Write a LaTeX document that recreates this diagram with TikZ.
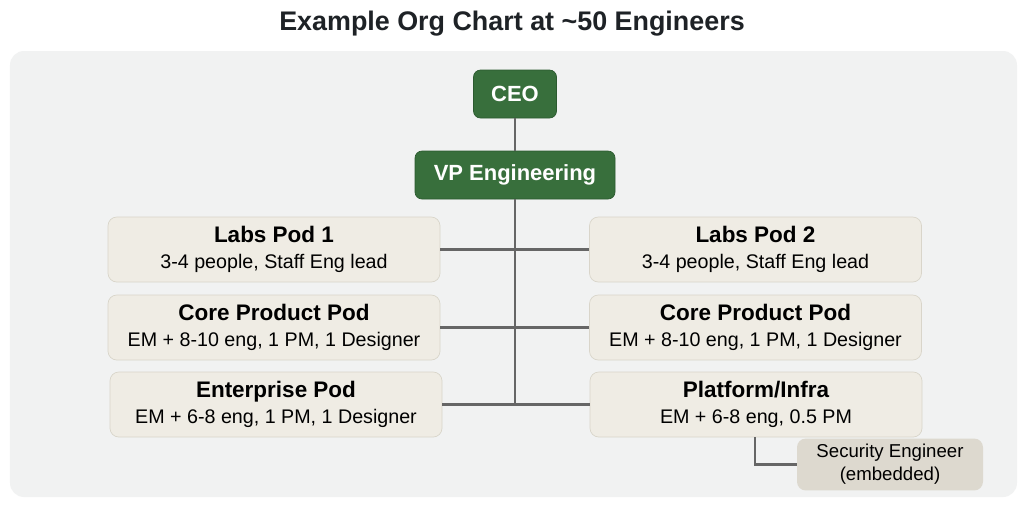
\documentclass[tikz,border=0pt]{standalone}
\usepackage{fontspec}
\setmainfont{Liberation Sans}
\usepackage{tikz}

\definecolor{leadgreen}{HTML}{386F3C}
\definecolor{leadedge}{HTML}{2B5A2F}
\definecolor{podfill}{HTML}{EFECE4}
\definecolor{podedge}{HTML}{D9D5CA}
\definecolor{secfill}{HTML}{DDD9CF}
\definecolor{panelfill}{HTML}{F1F2F2}
\definecolor{wire}{HTML}{666666}
\definecolor{titleink}{HTML}{1E2226}

\begin{document}
\begin{tikzpicture}[lead/.style = {fill=leadgreen,draw=leadedge,rounded corners=4pt,text=white,font=\bfseries\fontsize{12.5}{14}\selectfont,minimum height=0.96cm},
pod/.style = {fill=podfill,draw=podedge,rounded corners=5pt,minimum width=6.64cm,minimum height=1.3cm,align=center,font=\fontsize{11.2}{14.5}\selectfont},
secbox/.style = {fill=secfill,rounded corners=5pt,minimum width=3.72cm,minimum height=0.98cm,align=center,font=\fontsize{10.6}{13}\selectfont},
wire/.style = {draw=wire,line width=1.7pt}]
\useasboundingbox (0,0) rectangle (20.48,-10.18);
\fill[white] (0,0) rectangle (20.48,-10.18);
\fill[panelfill,rounded corners=8pt] (0.2,-1.02) rectangle (20.34,-9.94);
\node[text=titleink,font=\bfseries\fontsize{15.3}{18}\selectfont] (title) at (10.24,-0.48) {Example Org Chart at \textasciitilde 50 Engineers};

\node[lead,minimum width=1.66cm] (ceo) at (10.3,-1.88) {CEO};
\node[lead,minimum width=4cm] (vp) at (10.3,-3.5) {VP Engineering};
\coordinate (trunk) at (10.3,-8.09);
\coordinate (platdrop) at (15.1,-8.74);

\node[pod] (labsA) at (5.48,-4.99) {{\bfseries\fontsize{12.8}{14.5}\selectfont Labs Pod 1}\\3-4 people, Staff Eng lead};
\node[pod] (labsB) at (15.11,-4.99) {{\bfseries\fontsize{12.8}{14.5}\selectfont Labs Pod 2}\\3-4 people, Staff Eng lead};
\node[pod] (coreA) at (5.48,-6.55) {{\bfseries\fontsize{12.8}{14.5}\selectfont Core Product Pod}\\EM + 8-10 eng, 1 PM, 1 Designer};
\node[pod] (coreB) at (15.11,-6.55) {{\bfseries\fontsize{12.8}{14.5}\selectfont Core Product Pod}\\EM + 8-10 eng, 1 PM, 1 Designer};
\node[pod] (ent) at (5.52,-8.09) {{\bfseries\fontsize{12.8}{14.5}\selectfont Enterprise Pod}\\EM + 6-8 eng, 1 PM, 1 Designer};
\node[pod] (plat) at (15.12,-8.09) {{\bfseries\fontsize{12.8}{14.5}\selectfont Platform/Infra}\\EM + 6-8 eng, 0.5 PM};
\node[secbox] (sec) at (17.8,-9.29) {Security Engineer\\(embedded)};

\draw[wire] (ceo) -- (vp);
\draw[wire] (vp) -- (trunk);
\draw[wire] (labsA) -- (labsB);
\draw[wire] (coreA) -- (coreB);
\draw[wire] (ent) -- (plat);
\draw[wire] (platdrop) |- (sec);
\end{tikzpicture}
\end{document}
